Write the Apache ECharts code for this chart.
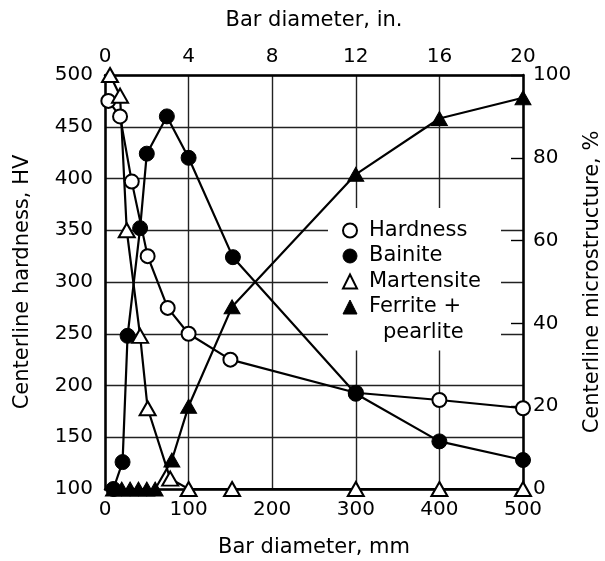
<!DOCTYPE html>
<html>
<head>
<meta charset="utf-8">
<script src="https://cdn.jsdelivr.net/npm/echarts@6/dist/echarts.min.js"></script>
<style>
  html, body { margin: 0; padding: 0; background: #fff; }
  #chart { width: 605px; height: 561px; }
</style>
</head>
<body>
<div id="chart"></div>
<script>
// values, [diameter mm, value]
const hardness = [[4, 475], [18, 460], [32, 397], [51, 325], [75, 275], [100, 250], [150, 225], [300, 193], [400, 186], [500, 178]]
const bainite = [[10, 0], [21, 6.5], [27, 37], [42, 63], [50, 81], [74, 90], [100, 80], [153, 56], [300, 23], [400, 11.5], [500, 7]]
const martensite = [[6, 100], [18, 95], [26, 62.5], [42, 37], [51, 19.5], [78, 2.5], [100, 0], [152, 0], [300, 0], [400, 0], [500, 0]]
const ferrite = [[10, 0], [20, 0], [30, 0], [40, 0], [50, 0], [60, 0], [80, 7], [100, 20], [152, 44], [300, 76], [400, 89.5], [500, 94.5]]

const seriesNames = ['Hardness', 'Bainite', 'Martensite', 'Ferrite + pearlite']

const font = 'DejaVu Sans'
const ink = '#000'

const chart = echarts.init(document.getElementById('chart'))

// open / filled marker styles
const openStyle = { color: '#fff', borderColor: '#000', borderWidth: 2 }
const fillStyle = { color: '#000', borderColor: '#000', borderWidth: 1 }

function lineSeries(name, data, yIdx, symbol, size, style) {
  return {
    name: name,
    type: 'line',
    xAxisIndex: 0,
    yAxisIndex: yIdx,
    data: data,
    symbol: symbol,
    symbolSize: size,
    showAllSymbol: true,
    lineStyle: { color: '#000', width: 2.2 },
    itemStyle: style,
    emphasis: { disabled: true },
    animation: false
  }
}

const frame = { show: true, onZero: false, lineStyle: { color: '#000', width: 2.5 } }
const gridLine = { show: true, lineStyle: { color: '#222', width: 1.4 } }
const titleText = { fontSize: 21, color: ink, fontFamily: font }
const tickText = { fontSize: 20, color: ink, fontFamily: font }

const option = {
  backgroundColor: '#fff',
  textStyle: { fontFamily: font, color: ink },
  grid: { left: 105, right: 82, top: 75, bottom: 72, outerBoundsMode: 'none', containLabel: false },
  xAxis: [{
    type: 'value',
    position: 'bottom',
    min: 0, max: 500, interval: 100,
    name: 'Bar diameter, mm',
    nameLocation: 'middle',
    nameGap: 48,
    nameTextStyle: titleText,
    axisLine: frame,
    axisTick: { show: false },
    axisLabel: Object.assign({ margin: 11 }, tickText),
    splitLine: gridLine
  }, {
    type: 'value',
    position: 'top',
    min: 0, max: 20, interval: 4,
    name: 'Bar diameter, in.',
    nameLocation: 'middle',
    nameGap: 44,
    nameTextStyle: titleText,
    axisLine: frame,
    axisTick: { show: false },
    axisLabel: Object.assign({ margin: 8 }, tickText),
    splitLine: { show: false }
  }],
  yAxis: [{
    type: 'value',
    position: 'left',
    min: 100, max: 500, interval: 50,
    name: 'Centerline hardness, HV',
    nameLocation: 'middle',
    nameRotate: 90,
    nameGap: 72,
    nameTextStyle: titleText,
    axisLine: frame,
    axisTick: { show: false },
    axisLabel: Object.assign({ margin: 12 }, tickText),
    splitLine: gridLine
  }, {
    type: 'value',
    position: 'right',
    min: 0, max: 100, interval: 20,
    name: 'Centerline microstructure, %',
    nameLocation: 'middle',
    nameRotate: 90,
    nameGap: 58,
    nameTextStyle: titleText,
    axisLine: frame,
    axisTick: { show: true, inside: true, length: 12, lineStyle: { color: '#000', width: 1.4 } },
    axisLabel: Object.assign({ margin: 10 }, tickText),
    splitLine: { show: false }
  }],
  legend: {
    orient: 'vertical',
    left: 328,
    top: 208,
    padding: [12, 20, 33, 14],
    backgroundColor: '#fff',
    itemWidth: 14,
    itemHeight: 14,
    itemGap: 4.5,
    selectedMode: false,
    formatter: function (name) {
      return name === 'Ferrite + pearlite' ? 'Ferrite +' : name
    },
    textStyle: { fontSize: 21, lineHeight: 21, color: ink, fontFamily: font, padding: [0, 0, 0, 7] },
    data: [
      { name: seriesNames[0], icon: 'circle', itemStyle: openStyle },
      { name: seriesNames[1], icon: 'circle', itemStyle: fillStyle },
      { name: seriesNames[2], icon: 'triangle', itemStyle: openStyle },
      { name: seriesNames[3], icon: 'triangle', itemStyle: fillStyle }
    ]
  },
  // second line of the last legend entry
  graphic: [{
    type: 'text',
    left: 383,
    top: 322,
    z: 100,
    style: { text: 'pearlite', font: '21px "DejaVu Sans"', fill: ink }
  }],
  series: [
    lineSeries(seriesNames[0], hardness, 0, 'circle', 14, openStyle),
    lineSeries(seriesNames[1], bainite, 1, 'circle', 15, fillStyle),
    lineSeries(seriesNames[2], martensite, 1, 'triangle', [16, 14], openStyle),
    lineSeries(seriesNames[3], ferrite, 1, 'triangle', [16, 14], fillStyle)
  ]
}

chart.setOption(option)
</script>
</body>
</html>
